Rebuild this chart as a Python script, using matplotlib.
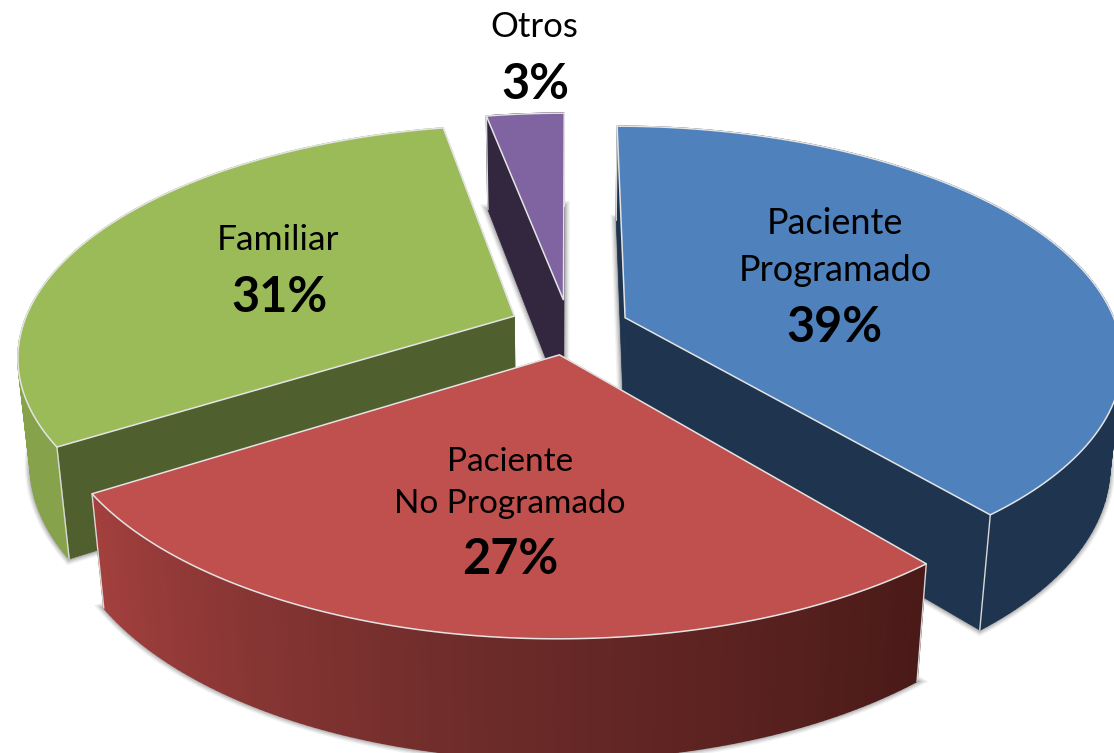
import matplotlib
matplotlib.use("Agg")
import matplotlib.pyplot as plt
from matplotlib.collections import PolyCollection
from matplotlib.colors import LinearSegmentedColormap
from matplotlib.patches import Polygon
import numpy as np

labels = ["Paciente\nProgramado", "Paciente\nNo Programado", "Familiar", "Otros"]
vals = [39, 27, 31, 3]
top_colors = ["#4f81bd", "#c0504d", "#9bbb59", "#8064a2"]
cut_colors = ["#1f344f", "#4a1a18", "#4f5f2d", "#33263f"]
side_colors = [["#1f344f", "#1f344f"], ["#a3403e", "#6e2c2a", "#4a1a18"],
               ["#86a34c", "#86a34c"], ["#33263f", "#33263f"]]

# where the texts sit, in pixels of the 1114x753 picture
label_pos = [(835, 247), (510, 483), (278, 240), (534, 27)]
label_size = [26, 24, 25.5, 25]
pct_pos = [(834, 327), (510, 559), (280, 297), (535, 84)]

# fake 3d view of the pie
CX, CY = 569, 327
R = 492
D = 6.0
TILT = 0.46
HEIGHT = 108
SINK = 0.135
EXPLODE = 0.122
START = 0


def project(x, y, bottom=0):
    s = D / (D + y + SINK * bottom)
    return CX + R * x * s, CY - R * TILT * y * s + HEIGHT * bottom * s


def slice_points(a1, a2, mid, bottom=0):
    ox = EXPLODE * np.sin(mid)
    oy = EXPLODE * np.cos(mid)
    ang = np.linspace(a1, a2, 120)
    apex = project(ox, oy, bottom)
    arc = project(ox + np.sin(ang), oy + np.cos(ang), bottom)
    return np.array(apex), np.column_stack(arc)


fig = plt.figure(figsize=(11.14, 7.53), dpi=100)
ax = fig.add_axes([0, 0, 1, 1])
ax.set_xlim(0, 1114)
ax.set_ylim(753, 0)
ax.axis("off")

edges = START + np.concatenate([[0], np.cumsum(vals)]) / sum(vals) * 360
edges = np.deg2rad(edges)
slices = []
for i in range(len(vals)):
    slices.append((edges[i], edges[i + 1], (edges[i] + edges[i + 1]) / 2))

# soft shadow under every slice
for a1, a2, mid in slices:
    apex, arc = slice_points(a1, a2, mid, 1)
    poly = np.vstack([apex, arc])
    for lw, alpha in [(8, 0.08), (6, 0.12), (4, 0.16), (2, 0.22)]:
        ax.add_patch(Polygon(poly, closed=True, fc="#555555", ec="#555555", lw=lw,
                             alpha=alpha, zorder=1))

# back to front
for z, i in enumerate([3, 2, 0, 1]):
    a1, a2, mid = slices[i]
    apex, arc = slice_points(a1, a2, mid)
    apex_b, arc_b = slice_points(a1, a2, mid, 1)
    zo = 2 + z

    for p, p_b in [(arc[0], arc_b[0]), (arc[-1], arc_b[-1])]:
        ax.add_patch(Polygon([apex, p, p_b, apex_b], closed=True, fc=cut_colors[i],
                             ec=cut_colors[i], lw=0.5, zorder=zo))

    quads = [[arc[k], arc[k + 1], arc_b[k + 1], arc_b[k]] for k in range(len(arc) - 1)]
    cmap = LinearSegmentedColormap.from_list("side", side_colors[i])
    cols = cmap(np.linspace(0, 1, len(quads)))
    if i == 1:
        cols = cols[::-1]
    ax.add_collection(PolyCollection(quads, facecolors=cols, edgecolors=cols, lw=1, zorder=zo))

    # pale lines on the vertical corners
    for p, p_b in [(arc[0], arc_b[0]), (arc[-1], arc_b[-1])]:
        ax.plot([p[0], p_b[0]], [p[1], p_b[1]], color="#d8d8d8", lw=1, zorder=zo)

    ax.add_patch(Polygon(np.vstack([apex, arc]), closed=True, fc=top_colors[i],
                         ec="#e4e4e4", lw=1.1, zorder=zo))

for i, lab in enumerate(labels):
    ax.text(label_pos[i][0], label_pos[i][1], lab, ha="center", va="center", family="Lato",
            fontsize=label_size[i], linespacing=1.5, color="black", zorder=10)
    ax.text(pct_pos[i][0], pct_pos[i][1], f"{vals[i]}%", ha="center", va="center", family="Lato",
            fontsize=35, fontweight="bold", color="black", zorder=10)

fig.savefig("out.png", dpi=100)
